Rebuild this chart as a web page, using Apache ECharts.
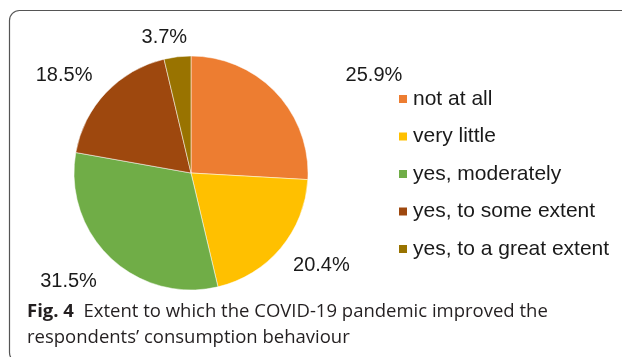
<!DOCTYPE html>
<html>
<head>
<meta charset="utf-8">
<script src="https://cdn.jsdelivr.net/npm/echarts@6/dist/echarts.min.js"></script>
<style>
  html, body { margin: 0; padding: 0; background: #fff; }
  #chart { width: 622px; height: 357px; }
</style>
</head>
<body>
<div id="chart"></div>
<script>
// Survey answers and their shares (%)
const categories = ['not at all', 'very little', 'yes, moderately', 'yes, to some extent', 'yes, to a great extent'];
const shares = [25.9, 20.4, 31.5, 18.5, 3.7];
const sliceColors = ['#ED7D31', '#FFC000', '#70AD47', '#9E480E', '#997300'];
// Small nudges for the percentage labels, in the same order as the slices
const labelNudge = [[40, -3], [-18, 4], [15, 9], [16, -3], [27, 1]];

const chart = echarts.init(document.getElementById('chart'), null, { renderer: 'canvas' });

const option = {
  animation: false,
  backgroundColor: '#ffffff',
  color: sliceColors,
  title: {
    left: 27,
    top: 299,
    padding: 0,
    text: '{b|Fig. 4}  Extent to which the COVID-19 pandemic improved the\nrespondents\u2019 consumption behaviour',
    textStyle: {
      fontFamily: 'Open Sans',
      fontSize: 18.5,
      fontWeight: 'normal',
      color: '#231f20',
      lineHeight: 26,
      rich: {
        b: { fontFamily: 'Open Sans', fontSize: 18.5, fontWeight: 'bold', color: '#231f20', lineHeight: 26 }
      }
    }
  },
  legend: {
    orient: 'vertical',
    left: 392,
    top: 83.5,
    itemWidth: 10,
    itemHeight: 10,
    itemGap: 16.5,
    icon: 'rect',
    textStyle: { fontFamily: 'Liberation Sans', fontSize: 21, color: '#1a1a1a' },
    data: categories
  },
  graphic: [{
    type: 'rect',
    shape: { x: 9.5, y: 10.5, width: 700, height: 352, r: 10 },
    style: { fill: 'none', stroke: '#555555', lineWidth: 1.2 },
    silent: true
  }],
  series: [{
    type: 'pie',
    center: [191, 173],
    radius: 117,
    startAngle: 90,
    clockwise: true,
    avoidLabelOverlap: false,
    itemStyle: { borderColor: '#ffffff', borderWidth: 0.5 },
    label: {
      show: true,
      position: 'outside',
      formatter: p => p.value.toFixed(1) + '%',
      fontFamily: 'Liberation Sans',
      fontSize: 20,
      color: '#1a1a1a'
    },
    labelLine: { show: false, length: 20, length2: 10 },
    data: categories.map((name, i) => ({
      name,
      value: shares[i],
      label: { offset: labelNudge[i] }
    }))
  }]
};

chart.setOption(option);
</script>
</body>
</html>
